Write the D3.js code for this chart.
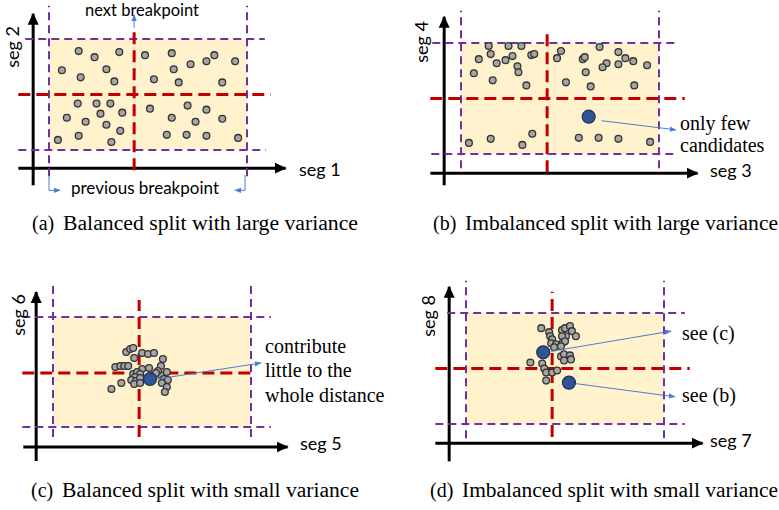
<!DOCTYPE html>
<html>
<head>
<meta charset="utf-8">
<script src="https://cdn.jsdelivr.net/npm/d3@7"></script>
<style>
	body { margin: 0; background: #fff; }
	.serif { font-family: 'Liberation Serif', 'Times New Roman', Times, serif; }
	.sans { font-family: Lato, 'Open Sans', sans-serif; }
</style>
</head>
<body>
<svg id="fig"></svg>
<script>
// point positions inside each box, box spans x 0..200 and y 0..110
const dotsA = [
	[30,98],[46,92],[71,97],[97,94],[124,96],[143,85],[159,88],[167,94],[188,88],
	[13,79],[58,80],[126,80],[32,72],[66,68],[106,70],[131,67],[175,67],
	[29,46],[48,46],[62,46],[74,37],[52,36],[102,41],[140,44],[159,40],
	[18,32],[37,28],[58,25],[124,32],[148,28],[175,31],
	[30,14],[72,19],[119,15],[139,15],[159,14],[9,10],[63,8],[191,12]
];
const dotsB = [
	[28,107],[48,107],[61,107],[18,94],[30,99],[36,90],[45,93],[52,97],[57,87],
	[71,98],[74,99],[13,80],[58,81],[32,73],[66,68],[97,95],[101,102],[123,94],
	[125,96],[140,106],[159,101],[166,95],[174,92],[147,90],[143,86],[159,89],
	[188,88],[126,81],[106,71],[131,67],[175,68],
	[8,11],[30,15],[62,9],[72,20],[119,16],[139,16],[159,15],[191,12]
];
const dotsC = [
	[74,75],[78,78],[81,79],[90,74],[96,73],[102,74],[82,69],[111,68],
	[63,60],[68,61],[72,61],[76,61],[90,58],[97,59],[109,61],
	[81,53],[85,55],[88,53],[83,50],[79,47],[84,46],[88,49],[82,43],[88,44],
	[69,44],[59,38],[109,52],[115,55],[106,56],[112,48],[116,47],[110,44],
	[115,40],[113,35],[104,54]
];
const dotsD = [
	[76,95],[84,91],[85,87],[97,93],[100,95],[105,97],[107,92],[111,87],
	[101,87],[97,87],[87,84],[86,80],[91,79],[98,81],[100,82],[89,76],[96,77],
	[96,67],[99,69],[105,68],[106,64],[99,63],[65,61],[77,60],[79,55],[81,51],
	[87,51],[92,53],[81,43]
];
const bigB = [[129,37]];
const bigC = [[98,48]];
const bigD = [[78,71],[104,41]];
const splitsX = [86, 87, 87, 87];
const splitsY = [55, 55, 54, 55];
const xLabels = ['seg 1', 'seg 3', 'seg 5', 'seg 7'];
const yLabels = ['seg 2', 'seg 4', 'seg 6', 'seg 8'];
const tags = ['(a)', '(b)', '(c)', '(d)'];
const captions = [
	'Balanced split with large variance',
	'Imbalanced split with large variance',
	'Balanced split with small variance',
	'Imbalanced split with small variance'
];

const color = {
	box: '#fff2cc',
	purple: '#7030a0',
	red: '#c00000',
	dot: '#a6a6a6',
	dotStroke: '#333',
	big: '#2f5597',
	bigStroke: '#1f2f55',
	note: '#4a7fd0'
};

const panels = [
	{ dots: dotsA, big: [], box: [49, 247, 39, 150],
		pv: [-26, 143], ph: [[-24, 218], [-31, 219]], rh: [-31, 224], rv: [-20, 121],
		ya: [-16, -35, 135], xa: [-18, -31, 239],
		xl: [299, 176], yl: [19, 47], cap: [32, 63, 358, 230], notes: [] },
	{ dots: dotsB, big: bigB, box: [461, 659, 43, 154],
		pv: [-14, 142], ph: [[-29, 216], [-30, 219]], rh: [-31, 226], rv: [-18, 121],
		ya: [-17, -31, 136], xa: [-19, -31, 239],
		xl: [710, 177], yl: [428, 42], cap: [433, 465, 778, 230],
		notes: [[[142, 33], [217, 24]]] },
	{ dots: dotsC, big: bigC, box: [53, 251, 317, 427],
		pv: [-10, 144], ph: [[-31, 220], [-31, 220]], rh: [-31, 204], rv: [-10, 127],
		ya: [-17, -34, 135], xa: [-20, -30, 237],
		xl: [300, 450], yl: [25, 315], cap: [31, 62, 359, 497],
		notes: [[[99, 47], [210, 64]]] },
	{ dots: dotsD, big: bigD, box: [466, 664, 313, 424],
		pv: [-14, 142], ph: [[-19, 221], [-31, 221]], rh: [-31, 226], rv: [-13, 131],
		ya: [-17, -37, 136], xa: [-19, -31, 239],
		xl: [710, 447], yl: [435, 316], cap: [430, 462, 778, 497],
		notes: [[[86, 72], [207, 92]], [[111, 40], [211, 27]]] }
];

const svg = d3.select('#fig').attr('width', 779).attr('height', 510);
const defs = svg.append('defs');
defs.append('marker')
	.attr('id', 'axhead').attr('markerUnits', 'userSpaceOnUse')
	.attr('viewBox', '0 0 12 12').attr('refX', 11).attr('refY', 6)
	.attr('markerWidth', 12).attr('markerHeight', 12).attr('orient', 'auto')
	.append('path').attr('d', 'M0,0.5 L12,6 L0,11.5 Z').attr('fill', '#000');
defs.append('marker')
	.attr('id', 'notehead').attr('markerUnits', 'userSpaceOnUse')
	.attr('viewBox', '0 0 8 8').attr('refX', 7).attr('refY', 4)
	.attr('markerWidth', 7).attr('markerHeight', 7).attr('orient', 'auto')
	.append('path').attr('d', 'M0,1 L8,4 L0,7 Z').attr('fill', color.note);

const line = d3.line();

function seg(g, x, y, pts, stroke, width, dash, marker) {
	const p = g.append('path')
		.attr('d', line(pts.map(d => [x(d[0]), y(d[1])])))
		.attr('fill', 'none')
		.attr('stroke', stroke)
		.attr('stroke-width', width);
	if (dash) p.attr('stroke-dasharray', dash);
	if (marker) p.attr('marker-end', `url(#${marker})`);
	return p;
}

function drawPanel(cfg, i) {
	const [bx0, bx1, by0, by1] = cfg.box;
	const x = d3.scaleLinear().domain([0, 200]).range([bx0, bx1]);
	const y = d3.scaleLinear().domain([0, 110]).range([by1, by0]);
	const g = svg.append('g');

	g.append('rect')
		.attr('x', x(0)).attr('y', y(110))
		.attr('width', x(200) - x(0)).attr('height', y(0) - y(110))
		.attr('fill', color.box);

	// axes with arrow heads
	seg(g, x, y, [[cfg.ya[0], cfg.ya[1]], [cfg.ya[0], cfg.ya[2]]], '#000', 3, null, 'axhead');
	seg(g, x, y, [[cfg.xa[1], cfg.xa[0]], [cfg.xa[2], cfg.xa[0]]], '#000', 3, null, 'axhead');

	// previous breakpoints
	[0, 200].forEach(v => seg(g, x, y, [[v, cfg.pv[0]], [v, cfg.pv[1]]], color.purple, 2, '8,5'));
	[110, 0].forEach((v, k) => seg(g, x, y, [[cfg.ph[k][0], v], [cfg.ph[k][1], v]], color.purple, 2, '8,5'));

	// next breakpoint
	seg(g, x, y, [[cfg.rh[0], splitsY[i]], [cfg.rh[1], splitsY[i]]], color.red, 3, '12,6');
	seg(g, x, y, [[splitsX[i], cfg.rv[0]], [splitsX[i], cfg.rv[1]]], color.red, 3, '12,6');

	g.append('g').selectAll('circle')
		.data(cfg.dots)
		.enter()
		.append('circle')
		.attr('cx', d => x(d[0]))
		.attr('cy', d => y(d[1]))
		.attr('r', 3.4)
		.attr('fill', color.dot)
		.attr('stroke', color.dotStroke)
		.attr('stroke-width', 1.3);

	cfg.notes.forEach(n => seg(g, x, y, n, color.note, 1, null, 'notehead'));

	g.append('g').selectAll('circle')
		.data(cfg.big)
		.enter()
		.append('circle')
		.attr('cx', d => x(d[0]))
		.attr('cy', d => y(d[1]))
		.attr('r', 6.5)
		.attr('fill', color.big)
		.attr('stroke', color.bigStroke)
		.attr('stroke-width', 1.2);

	g.append('text')
		.attr('class', 'sans')
		.attr('x', cfg.xl[0]).attr('y', cfg.xl[1])
		.attr('font-size', 18)
		.text(xLabels[i]);
	g.append('text')
		.attr('class', 'sans')
		.attr('transform', `translate(${cfg.yl[0]},${cfg.yl[1]}) rotate(-90)`)
		.attr('text-anchor', 'middle')
		.attr('font-size', 18)
		.text(yLabels[i]);

	g.append('text')
		.attr('class', 'serif')
		.attr('x', cfg.cap[0]).attr('y', cfg.cap[3])
		.attr('font-size', 20)
		.text(tags[i]);
	g.append('text')
		.attr('class', 'serif')
		.attr('x', cfg.cap[1]).attr('y', cfg.cap[3])
		.attr('font-size', 20)
		.attr('textLength', cfg.cap[2] - cfg.cap[1])
		.attr('lengthAdjust', 'spacingAndGlyphs')
		.text(captions[i]);

	return { g, x, y };
}

const drawn = panels.map(drawPanel);

// panel (a): breakpoint notes
{
	const { g, x, y } = drawn[0];
	seg(g, x, y, [[splitsX[0], 121], [splitsX[0], 134]], color.note, 1, null, 'notehead');
	seg(g, x, y, [[0, -25], [0, -40], [11, -40]], color.note, 1, null, 'notehead');
	seg(g, x, y, [[198, -25], [198, -40], [188, -40]], color.note, 1, null, 'notehead');
	g.append('text').attr('class', 'sans').attr('x', 142).attr('y', 16).attr('text-anchor', 'middle')
		.attr('font-size', 16.5).text('next breakpoint');
	g.append('text').attr('class', 'sans').attr('x', 145).attr('y', 194).attr('text-anchor', 'middle')
		.attr('font-size', 17).text('previous breakpoint');
}

function noteLines(g, x0, ys, lines) {
	lines.forEach((t, k) => {
		g.append('text').attr('class', 'serif').attr('x', x0).attr('y', ys[k])
			.attr('font-size', 20).text(t);
	});
}
noteLines(drawn[1].g, 680, [130, 152], ['only few', 'candidates']);
noteLines(drawn[2].g, 265, [353, 377, 402], ['contribute', 'little to the', 'whole distance']);
noteLines(drawn[3].g, 682, [340, 402], ['see (c)', 'see (b)']);
</script>
</body>
</html>
